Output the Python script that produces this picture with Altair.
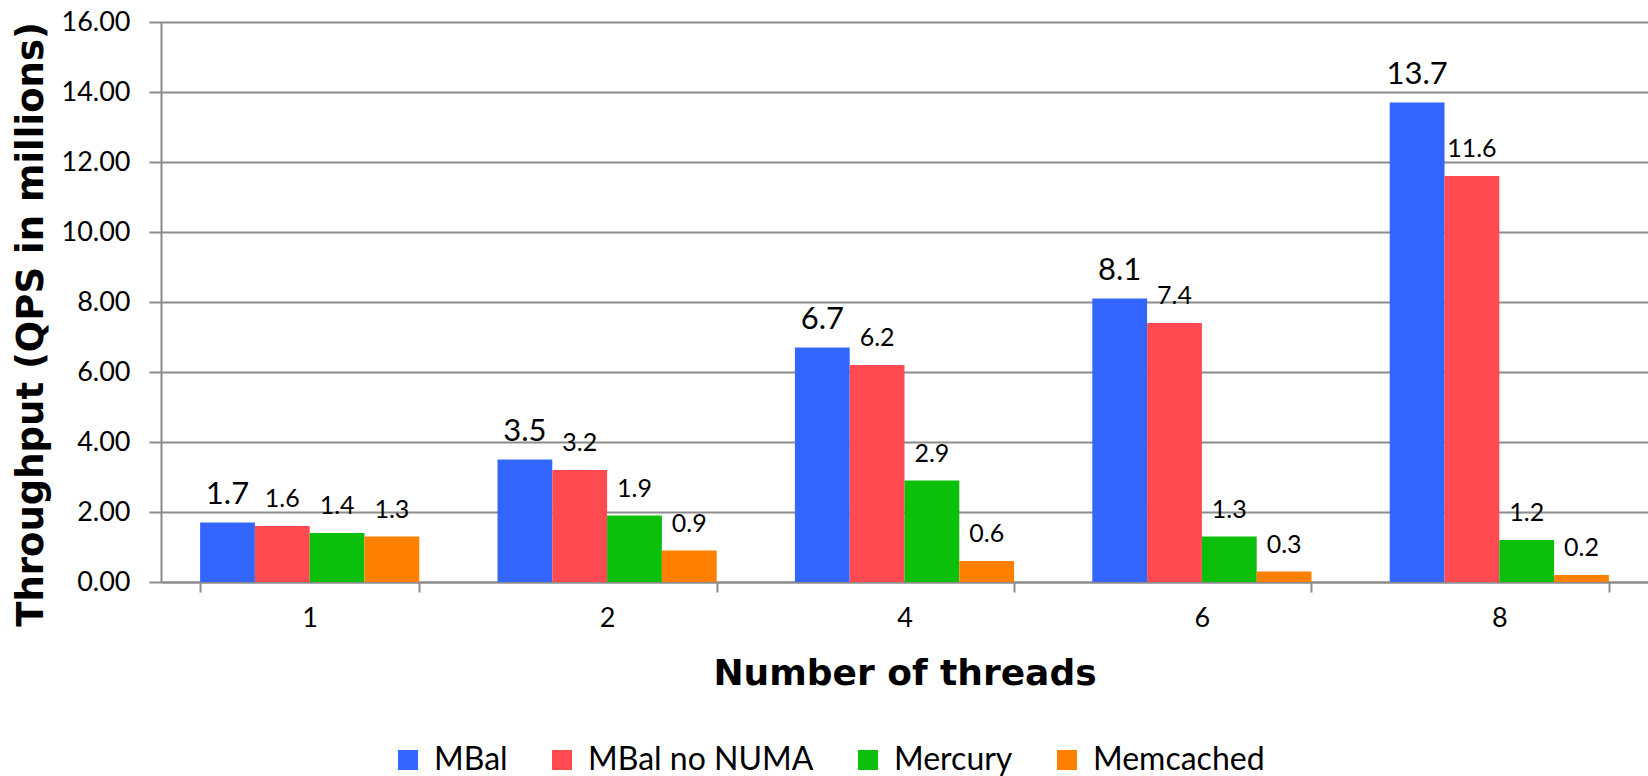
import altair as alt
import pandas as pd

threads = ["1", "2", "4", "6", "8"]
series = ["MBal", "MBal no NUMA", "Mercury", "Memcached"]
mbal = [1.7, 3.5, 6.7, 8.1, 13.7]
mbal_nonuma = [1.6, 3.2, 6.2, 7.4, 11.6]
mercury = [1.4, 1.9, 2.9, 1.3, 1.2]
memcached = [1.3, 0.9, 0.6, 0.3, 0.2]
colors = ["#3366FF", "#FF4A52", "#0BBF0B", "#FF8000"]

rows = []
for s, vals in zip(series, [mbal, mbal_nonuma, mercury, memcached]):
    for t, v in zip(threads, vals):
        rows.append({"threads": t, "series": s, "value": v,
                     "label": f"{v:.1f}", "fs": 31 if s == "MBal" else 25})
df = pd.DataFrame(rows)

FONT = "Lato"
TFONT = "DejaVu Sans"

x = alt.X("threads:N", sort=threads,
          scale=alt.Scale(paddingInner=0.263, paddingOuter=0.1315),
          axis=alt.Axis(title="Number of threads", titleFontSize=36, titleFont=TFONT,
                        titleFontWeight="bold", titleColor="black",
                        titleY=91, titleBaseline="middle",
                        labelAngle=0, labelFontSize=27, labelFont=FONT, labelColor="black",
                        labelPadding=13, tickBand="extent", tickSize=10, tickColor="#8c8c8c",
                        tickWidth=2, domainColor="#8c8c8c", domainWidth=2, grid=False))
xo = alt.XOffset("series:N", sort=series, scale=alt.Scale(paddingInner=0, paddingOuter=0))

base = alt.Chart(df)

bars = base.mark_bar().encode(
    x=x, xOffset=xo,
    y=alt.Y("value:Q", scale=alt.Scale(domain=[0, 16]),
            axis=alt.Axis(title="Throughput (QPS in millions)", format=".2f",
                          values=[0, 2, 4, 6, 8, 10, 12, 14, 16],
                          titleFontSize=37, titleFont=TFONT, titleFontWeight="bold",
                          titleColor="black", titleX=-130, titleY=302, titleAngle=-90,
                          titleAlign="center", titleBaseline="middle",
                          labelFontSize=27, labelFont=FONT, labelColor="black",
                          labelPadding=19, tickSize=12, tickColor="#8c8c8c", tickWidth=2,
                          domainColor="#8c8c8c", domainWidth=2,
                          gridColor="#8c8c8c", gridWidth=2)),
    color=alt.Color("series:N", sort=series,
                    scale=alt.Scale(domain=series, range=colors),
                    legend=alt.Legend(title=None, orient="none", direction="horizontal",
                                      legendX=231, legendY=722, gridAlign="none", padding=0,
                                      labelFontSize=32, labelFont=FONT, labelColor="black",
                                      labelLimit=500,
                                      symbolType="square",
                                      symbolSize=400, symbolStrokeWidth=0,
                                      symbolOpacity=1, columnPadding=38, labelOffset=10)),
)

text = base.mark_text(baseline="alphabetic", dy=-19, font=FONT, color="black").encode(
    x=x, xOffset=xo,
    y="value:Q",
    text="label:N",
    size=alt.Size("fs:Q", scale=None, legend=None),
)

chart = alt.layer(bars, text).properties(
    width=1487, height=560,
    autosize=alt.AutoSizeParams(type="none"),
    padding={"left": 161, "top": 22, "right": 0, "bottom": 194},
).configure_view(stroke=None).configure(background="white")

chart.save("out.html", embed_options={"renderer": "svg", "actions": False})
